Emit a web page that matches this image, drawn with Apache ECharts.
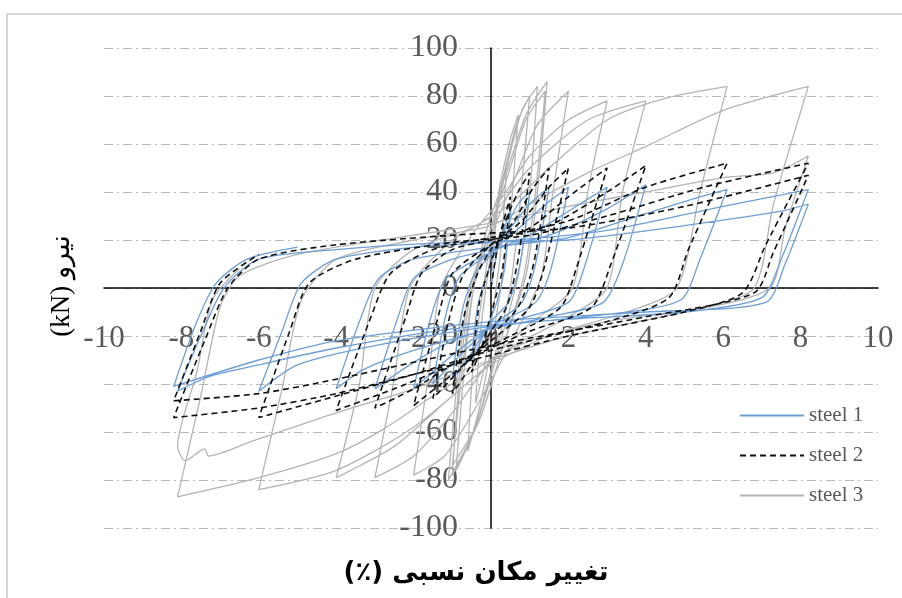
<!DOCTYPE html>
<html>
<head>
<meta charset="utf-8">
<script src="https://cdn.jsdelivr.net/npm/echarts@6/dist/echarts.min.js"></script>
<style>
  html, body { margin: 0; padding: 0; background: #fff; }
  #main { width: 902px; height: 598px; }
</style>
</head>
<body>
<div id="main"></div>
<script>
// ticks
var xTicks = [-10, -8, -6, -4, -2, 0, 2, 4, 6, 8, 10];
var yTicks = [-100, -80, -60, -40, -20, 0, 20, 40, 60, 80, 100];
var seriesNames = ['steel 1', 'steel 2', 'steel 3'];

// steel 1 : [drift %, force kN]
var steel1 = [
  [0,0],[0.2,18],[0.5,32],[0.35,8],[0.15,-6],[-0.2,-20],[-0.5,-30],[-0.35,-8],[-0.1,6],
  [0.3,22],[0.7,35],[1.0,40],[0.75,10],[0.45,-6],[0,-14],[-0.5,-27],[-1.0,-38],[-0.75,-10],[-0.45,5],[0,14],
  [0.5,25],[1.0,35],[1.5,42],[1.15,10],[0.8,-6],[0,-16],[-0.8,-28],[-1.5,-40],[-1.15,-10],[-0.8,5],[0,15],
  [0.8,26],[1.5,36],[2.0,42],[1.55,8],[1.15,-6],[0,-16],[-1,-28],[-2,-42],[-1.55,-12],[-1.15,4],[0,15],
  [1,22],[2,32],[3.0,42],[2.4,8],[2.0,-6],[0.5,-14],[-1,-22],[-2,-31],[-3,-42],[-2.4,-12],[-2.0,4],[-1,12],[0,16],
  [1.5,22],[3,33],[4.0,43],[3.4,10],[2.9,-6],[1.5,-12],[0,-17],[-2,-26],[-3.3,-34],[-4,-42],[-3.4,-14],[-2.9,4],[-2,12],[0,17],
  [2,21],[4,31],[5.4,38],[6.1,41],[5.4,12],[4.9,-5],[3,-11],[0,-16],[-3,-24],[-5,-32],[-6,-43],[-5.4,-18],[-4.9,2],[-4,12],[-2,17],[0,19],
  [3,24],[6,34],[8.2,41],[7.5,12],[7,-4],[5,-10],[2,-13],[-1,-17],[-4,-25],[-6,-32],[-7.3,-37],[-8.1,-43],[-7.5,-20],[-6.9,0],[-6,12],[-4,16],[-1,19],[2,20],[5,26],[7.5,32],[8.2,35],
  [7.6,10],[7.1,-6],[4,-10],[0,-14],[-4,-22],[-6,-30],[-8.2,-41],[-7.6,-14],[-7.1,2],[-6.3,12],[-5,17]
];

// steel 2
var steel2 = [
  [0,0],[0.2,20],[0.5,38],[0.3,8],[0.05,-8],[-0.25,-25],[-0.5,-35],[-0.3,-6],[-0.05,8],
  [0.3,25],[0.7,40],[1.0,48],[0.7,12],[0.4,-8],[0,-18],[-0.5,-32],[-1.0,-44],[-0.7,-12],[-0.35,6],[0,16],
  [0.6,28],[1.1,42],[1.5,50],[1.1,10],[0.7,-8],[0,-20],[-0.8,-34],[-1.5,-46],[-1.1,-14],[-0.7,6],[0,18],
  [0.8,28],[1.5,42],[2.0,50],[1.4,10],[1.0,-8],[0,-22],[-1,-36],[-2,-49],[-1.4,-14],[-1,6],[0,18],
  [1,25],[2,38],[3.0,50],[2.2,8],[1.8,-8],[0.5,-20],[-1,-32],[-2,-42],[-3,-50],[-2.2,-12],[-1.8,6],[-1,16],[0,20],
  [1.5,26],[3,40],[4.0,51],[3.1,10],[2.6,-8],[1,-18],[-1,-32],[-2.5,-42],[-4,-51],[-3.1,-12],[-2.6,6],[-1.5,16],[0,21],
  [2,28],[4,42],[6.1,52],[5.1,16],[4.6,-4],[3,-14],[0,-26],[-2,-36],[-4,-45],[-6,-54],[-5.2,-18],[-4.7,2],[-3.5,12],[-1,19],[1,22],
  [3,30],[5.5,42],[8.2,52],[7.1,18],[6.5,-2],[5,-10],[2,-20],[0,-28],[-2,-36],[-4,-44],[-6,-50],[-8.2,-54],[-7.4,-22],[-6.8,0],[-6,12],[-4,18],[-1,22],[2,25],[5,34],[8.2,47],
  [7.3,15],[6.8,-2],[4,-12],[0,-24],[-4,-38],[-6,-44],[-8.2,-47],[-7.5,-18],[-7,2],[-6,14]
];

// steel 3
var steel3 = [
  [0,0],[0.15,30],[0.4,50],[0.25,15],[0,-15],[-0.2,-35],[-0.4,-48],[-0.25,-15],[0,15],
  [0.2,40],[0.5,62],[0.7,72],[0.5,30],[0.25,0],[0,-25],[-0.3,-50],[-0.6,-68],[-0.45,-30],[-0.2,0],[0,20],
  [0.3,45],[0.7,70],[1.0,80],[0.75,35],[0.5,0],[0.1,-28],[-0.4,-58],[-0.9,-76],[-0.7,-35],[-0.45,0],[-0.1,25],
  [0.4,48],[0.9,72],[1.45,86],[1.2,40],[0.9,5],[0.3,-25],[-0.3,-55],[-1.0,-78],[-0.8,-35],[-0.5,0],[0,25],
  [0.4,50],[0.8,74],[1.2,84],[1.0,40],[0.7,5],[0.2,-25],[-0.4,-58],[-1.1,-80],[-0.85,-35],[-0.55,0],[0,25],
  [0.4,45],[0.9,70],[1.4,82],[1.15,40],[0.85,5],[0.3,-25],[-0.3,-55],[-1.0,-74],[-0.75,-35],[-0.45,0],[0,22],
  [0.6,45],[1.2,68],[2.0,82],[1.6,40],[1.3,5],[0.6,-20],[-0.4,-50],[-1.2,-70],[-2.0,-78],[-1.6,-35],[-1.3,0],[-0.5,22],[0.3,38],
  [1,55],[2,70],[3.0,78],[2.5,40],[2.1,0],[1,-15],[0,-30],[-1,-52],[-2,-70],[-3.0,-79],[-2.5,-38],[-2.1,0],[-1,20],[0,30],
  [1,50],[2.5,70],[4.0,78],[3.4,40],[3.0,0],[2,-12],[0.5,-25],[-1,-45],[-2.5,-66],[-4.0,-79],[-3.4,-40],[-3.0,0],[-2,16],[-0.5,25],[0.5,35],
  [1.5,50],[3,70],[4.5,79],[6.1,84],[5.4,40],[4.8,0],[3.5,-10],[1.5,-20],[0,-32],[-2,-58],[-4,-76],[-6.0,-84],[-5.4,-42],[-4.9,-5],[-4,12],[-2,20],[0,26],
  [1,35],[2.5,48],[4,59],[6,74],[8.2,84],[7.3,35],[6.8,0],[5.5,-8],[3,-14],[1,-22],[0,-30],[-1.5,-45],[-2.8,-59],[-4,-69],[-6,-79],[-8.1,-87],[-7.5,-45],[-7.0,-8],[-6.5,5],[-5,14],[-2,22],[0,27],[2,34],[4,40],[6,46],[7.3,48],[8.2,55],
  [7.6,25],[7.2,0],[5,-10],[2,-20],[0,-30],[-2,-42],[-4,-52],[-6.2,-64],[-7.3,-70],[-7.4,-67],[-7.9,-72],[-8.1,-66],[-7.6,-35],[-7.2,-5],[-6.5,8]
];

var myChart = echarts.init(document.getElementById('main'));

var labelFont = 'Liberation Serif, Times New Roman, serif';

var option = {
  animation: false,
  backgroundColor: '#fff',
  grid: { left: 104, right: 24, top: 48, bottom: 70, containLabel: false },
  legend: {
    orient: 'vertical',
    left: 734,
    top: 400,
    itemWidth: 64,
    itemHeight: 12,
    itemGap: 19,
    data: seriesNames,
    itemStyle: { opacity: 0 },
    textStyle: { fontFamily: labelFont, fontSize: 21, color: '#595959' }
  },
  xAxis: {
    type: 'value',
    min: xTicks[0],
    max: xTicks[xTicks.length - 1],
    interval: 2,
    axisLine: { show: true, onZero: true, lineStyle: { color: '#000', width: 1.5 } },
    axisTick: { show: false },
    splitLine: { show: false },
    // labels sit on the -20 gridline, not at the bottom edge
    axisLabel: { margin: -205, fontFamily: labelFont, fontSize: 31, color: '#595959' }
  },
  yAxis: {
    type: 'value',
    min: yTicks[0],
    max: yTicks[yTicks.length - 1],
    interval: 20,
    axisLine: { show: true, onZero: true, lineStyle: { color: '#000', width: 1.5 } },
    axisTick: { show: false },
    splitLine: { show: true, lineStyle: { color: '#b8b8b8', width: 1, type: [9, 4, 2, 4] } },
    // labels next to the vertical axis at x = 0
    axisLabel: { margin: -354, fontFamily: labelFont, fontSize: 32, color: '#595959' }
  },
  series: [
    {
      name: seriesNames[0], type: 'line', data: steel1, symbol: 'none', smooth: 0.25,
      lineStyle: { color: '#6d9fd6', width: 1.3 }, itemStyle: { color: '#6d9fd6' }, z: 3
    },
    {
      name: seriesNames[1], type: 'line', data: steel2, symbol: 'none', smooth: 0.25,
      lineStyle: { color: '#111', width: 1.6, type: [6, 4] }, itemStyle: { color: '#111' }, z: 4
    },
    {
      name: seriesNames[2], type: 'line', data: steel3, symbol: 'none', smooth: 0.25,
      lineStyle: { color: '#b4b4b4', width: 1.3 }, itemStyle: { color: '#b4b4b4' }, z: 2
    }
  ],
  graphic: [
    // light frame round the chart
    { type: 'polyline', silent: true, shape: { points: [[7, 598], [7, 14], [902, 14]] },
      style: { stroke: '#d6d6d6', lineWidth: 2, fill: null } },
    // y title
    { type: 'text', x: 62, y: 286, rotation: Math.PI / 2,
      style: { text: '(kN) نیرو', fontFamily: 'Liberation Serif, DejaVu Sans', fontSize: 27,
        fill: '#000', align: 'center', verticalAlign: 'middle' } },
    // x title
    { type: 'text', x: 476, y: 573,
      style: { text: 'تغییر مکان نسبی (٪)\u200F', fontFamily: 'DejaVu Sans', fontWeight: 'bold', fontSize: 26,
        fill: '#000', align: 'center', verticalAlign: 'middle' } }
  ]
};

myChart.setOption(option);
</script>
</body>
</html>
